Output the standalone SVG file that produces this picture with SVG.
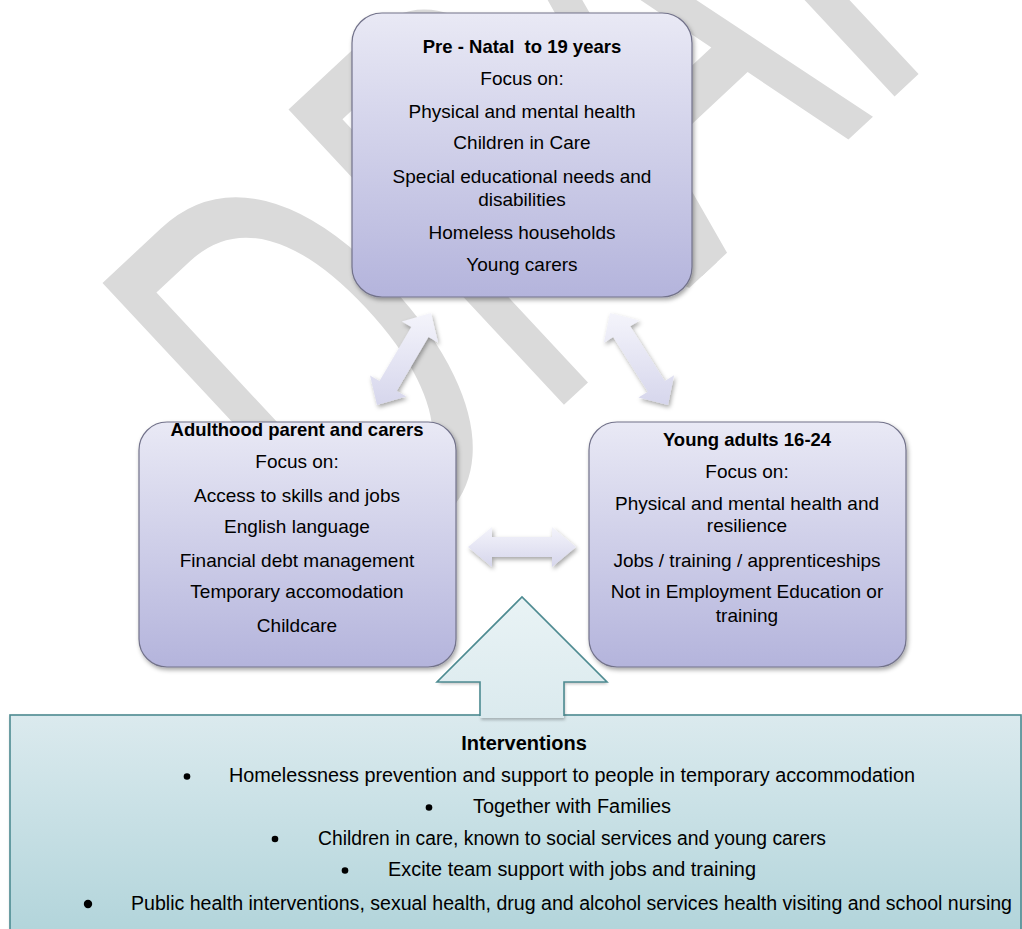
<svg xmlns="http://www.w3.org/2000/svg" width="1022" height="929" viewBox="0 0 1022 929">
  <defs>
    <linearGradient id="gBox" x1="0" y1="0" x2="0" y2="1">
      <stop offset="0" stop-color="#e9e9f5"/>
      <stop offset="1" stop-color="#b4b4dc"/>
    </linearGradient>
    <linearGradient id="gArrow" x1="0" y1="0" x2="0" y2="1">
      <stop offset="0" stop-color="#f4f4fb"/>
      <stop offset="1" stop-color="#d6d6ec"/>
    </linearGradient>
    <linearGradient id="gTeal" gradientUnits="userSpaceOnUse" x1="0" y1="715" x2="0" y2="929">
      <stop offset="0" stop-color="#dbeaee"/>
      <stop offset="1" stop-color="#b3d5db"/>
    </linearGradient>
    <linearGradient id="gTealArrow" gradientUnits="userSpaceOnUse" x1="0" y1="597" x2="0" y2="717">
      <stop offset="0" stop-color="#e9f3f5"/>
      <stop offset="1" stop-color="#dbeaee"/>
    </linearGradient>
    <filter id="shadow" x="-10%" y="-10%" width="125%" height="125%">
      <feDropShadow dx="1.5" dy="2.5" stdDeviation="2" flood-color="#000" flood-opacity="0.35"/>
    </filter>
    <filter id="shadowS" x="-10%" y="-10%" width="125%" height="125%">
      <feDropShadow dx="1" dy="2" stdDeviation="1.5" flood-color="#000" flood-opacity="0.25"/>
    </filter>
  </defs>
  <style>
    .wm { font-family: "Liberation Sans", Arial, sans-serif; font-size: 587px; fill: #dadada; }
    .box { fill: url(#gBox); stroke: #72728a; stroke-width: 1.2; filter: url(#shadow); }
    .arr { fill: url(#gArrow); stroke: none; filter: url(#shadow); }
    .t { font-family: "Liberation Sans", Arial, sans-serif; font-size: 19px; fill: #000; text-anchor: middle; }
    .b { font-family: "Liberation Sans", Arial, sans-serif; font-size: 18.5px; font-weight: bold; fill: #000; text-anchor: middle; }
    .bt { font-family: "Liberation Sans", Arial, sans-serif; font-size: 19.5px; fill: #000; }
    .teal { stroke: #4d8b91; stroke-width: 1.6; }
  </style>

  <rect width="1022" height="929" fill="#ffffff"/>

  <g id="watermark">
    <text class="wm" transform="translate(356.8,598) rotate(-43) scale(0.6,1)" x="0" y="0" dx="0 0 -62 0 0">DRAFT</text>
  </g>

  <g id="connectors">
    <polygon class="arr" points="431,313 438,342.6 428.5,337.1 396.7,391.1 406.2,396.6 377,405 370,375.4 379.5,380.9 411.3,326.9 401.8,321.4"/>
    <polygon class="arr" points="610,313 639.5,320.4 630.2,326.3 664.8,381.1 674.1,375.2 668,405 638.5,397.6 647.8,391.7 613.2,336.9 603.9,342.8"/>
    <polygon class="arr" points="468,547 492,527 492,537 552,537 552,527 576,547 552,567 552,557 492,557 492,567"/>
  </g>

  <g id="node-prenatal">
    <rect class="box" x="352" y="13" width="340" height="284" rx="30" ry="30"/>
    <text class="b" x="522" y="53" xml:space="preserve">Pre - Natal  to 19 years</text>
    <text class="t" x="522" y="84.5">Focus on:</text>
    <text class="t" x="522" y="117.5">Physical and mental health</text>
    <text class="t" x="522" y="149">Children in Care</text>
    <text class="t" x="522" y="182.5">Special educational needs and</text>
    <text class="t" x="522" y="206">disabilities</text>
    <text class="t" x="522" y="238.5">Homeless households</text>
    <text class="t" x="522" y="271">Young carers</text>
  </g>

  <g id="node-adulthood">
    <rect class="box" x="139" y="422" width="317" height="245" rx="28" ry="28"/>
    <text class="b" x="297" y="436">Adulthood parent and carers</text>
    <text class="t" x="297" y="468">Focus on:</text>
    <text class="t" x="297" y="502">Access to skills and jobs</text>
    <text class="t" x="297" y="533">English language</text>
    <text class="t" x="297" y="567">Financial debt management</text>
    <text class="t" x="297" y="598">Temporary accomodation</text>
    <text class="t" x="297" y="632">Childcare</text>
  </g>

  <g id="node-young-adults">
    <rect class="box" x="589" y="422" width="317" height="245" rx="28" ry="28"/>
    <text class="b" x="747" y="446">Young adults 16-24</text>
    <text class="t" x="747" y="478">Focus on:</text>
    <text class="t" x="747" y="510">Physical and mental health and</text>
    <text class="t" x="747" y="532">resilience</text>
    <text class="t" x="747" y="567">Jobs / training / apprenticeships</text>
    <text class="t" x="747" y="598">Not in Employment Education or</text>
    <text class="t" x="747" y="622">training</text>
  </g>

  <g id="node-interventions">
    <rect x="10" y="715" width="1011" height="230" fill="url(#gTeal)" class="teal" filter="url(#shadowS)"/>
    <polygon points="480,718 480,682 437,682 522,597 607,682 564,682 564,718" fill="url(#gTealArrow)" filter="url(#shadowS)"/>
    <polyline points="480,716 480,682 437,682 522,597 607,682 564,682 564,716" fill="none" class="teal"/>
    <text x="524" y="750" font-family="Liberation Sans, Arial, sans-serif" font-size="20" font-weight="bold" text-anchor="middle">Interventions</text>
    <circle cx="187" cy="776.5" r="3.3"/>
    <text class="bt" x="229" y="782" textLength="686" lengthAdjust="spacingAndGlyphs">Homelessness prevention and support to people in temporary accommodation</text>
    <circle cx="429" cy="807.5" r="3.3"/>
    <text class="bt" x="473" y="813" textLength="198" lengthAdjust="spacingAndGlyphs">Together with Families</text>
    <circle cx="275" cy="839" r="3.3"/>
    <text class="bt" x="318" y="845" textLength="508" lengthAdjust="spacingAndGlyphs">Children in care, known to social services and young carers</text>
    <circle cx="345" cy="870.5" r="3.3"/>
    <text class="bt" x="388" y="876" textLength="368" lengthAdjust="spacingAndGlyphs">Excite team support with jobs and training</text>
    <circle cx="88" cy="904" r="4.2"/>
    <text class="bt" x="131" y="910" textLength="881" lengthAdjust="spacingAndGlyphs">Public health interventions, sexual health, drug and alcohol services health visiting and school nursing</text>
  </g>
</svg>
